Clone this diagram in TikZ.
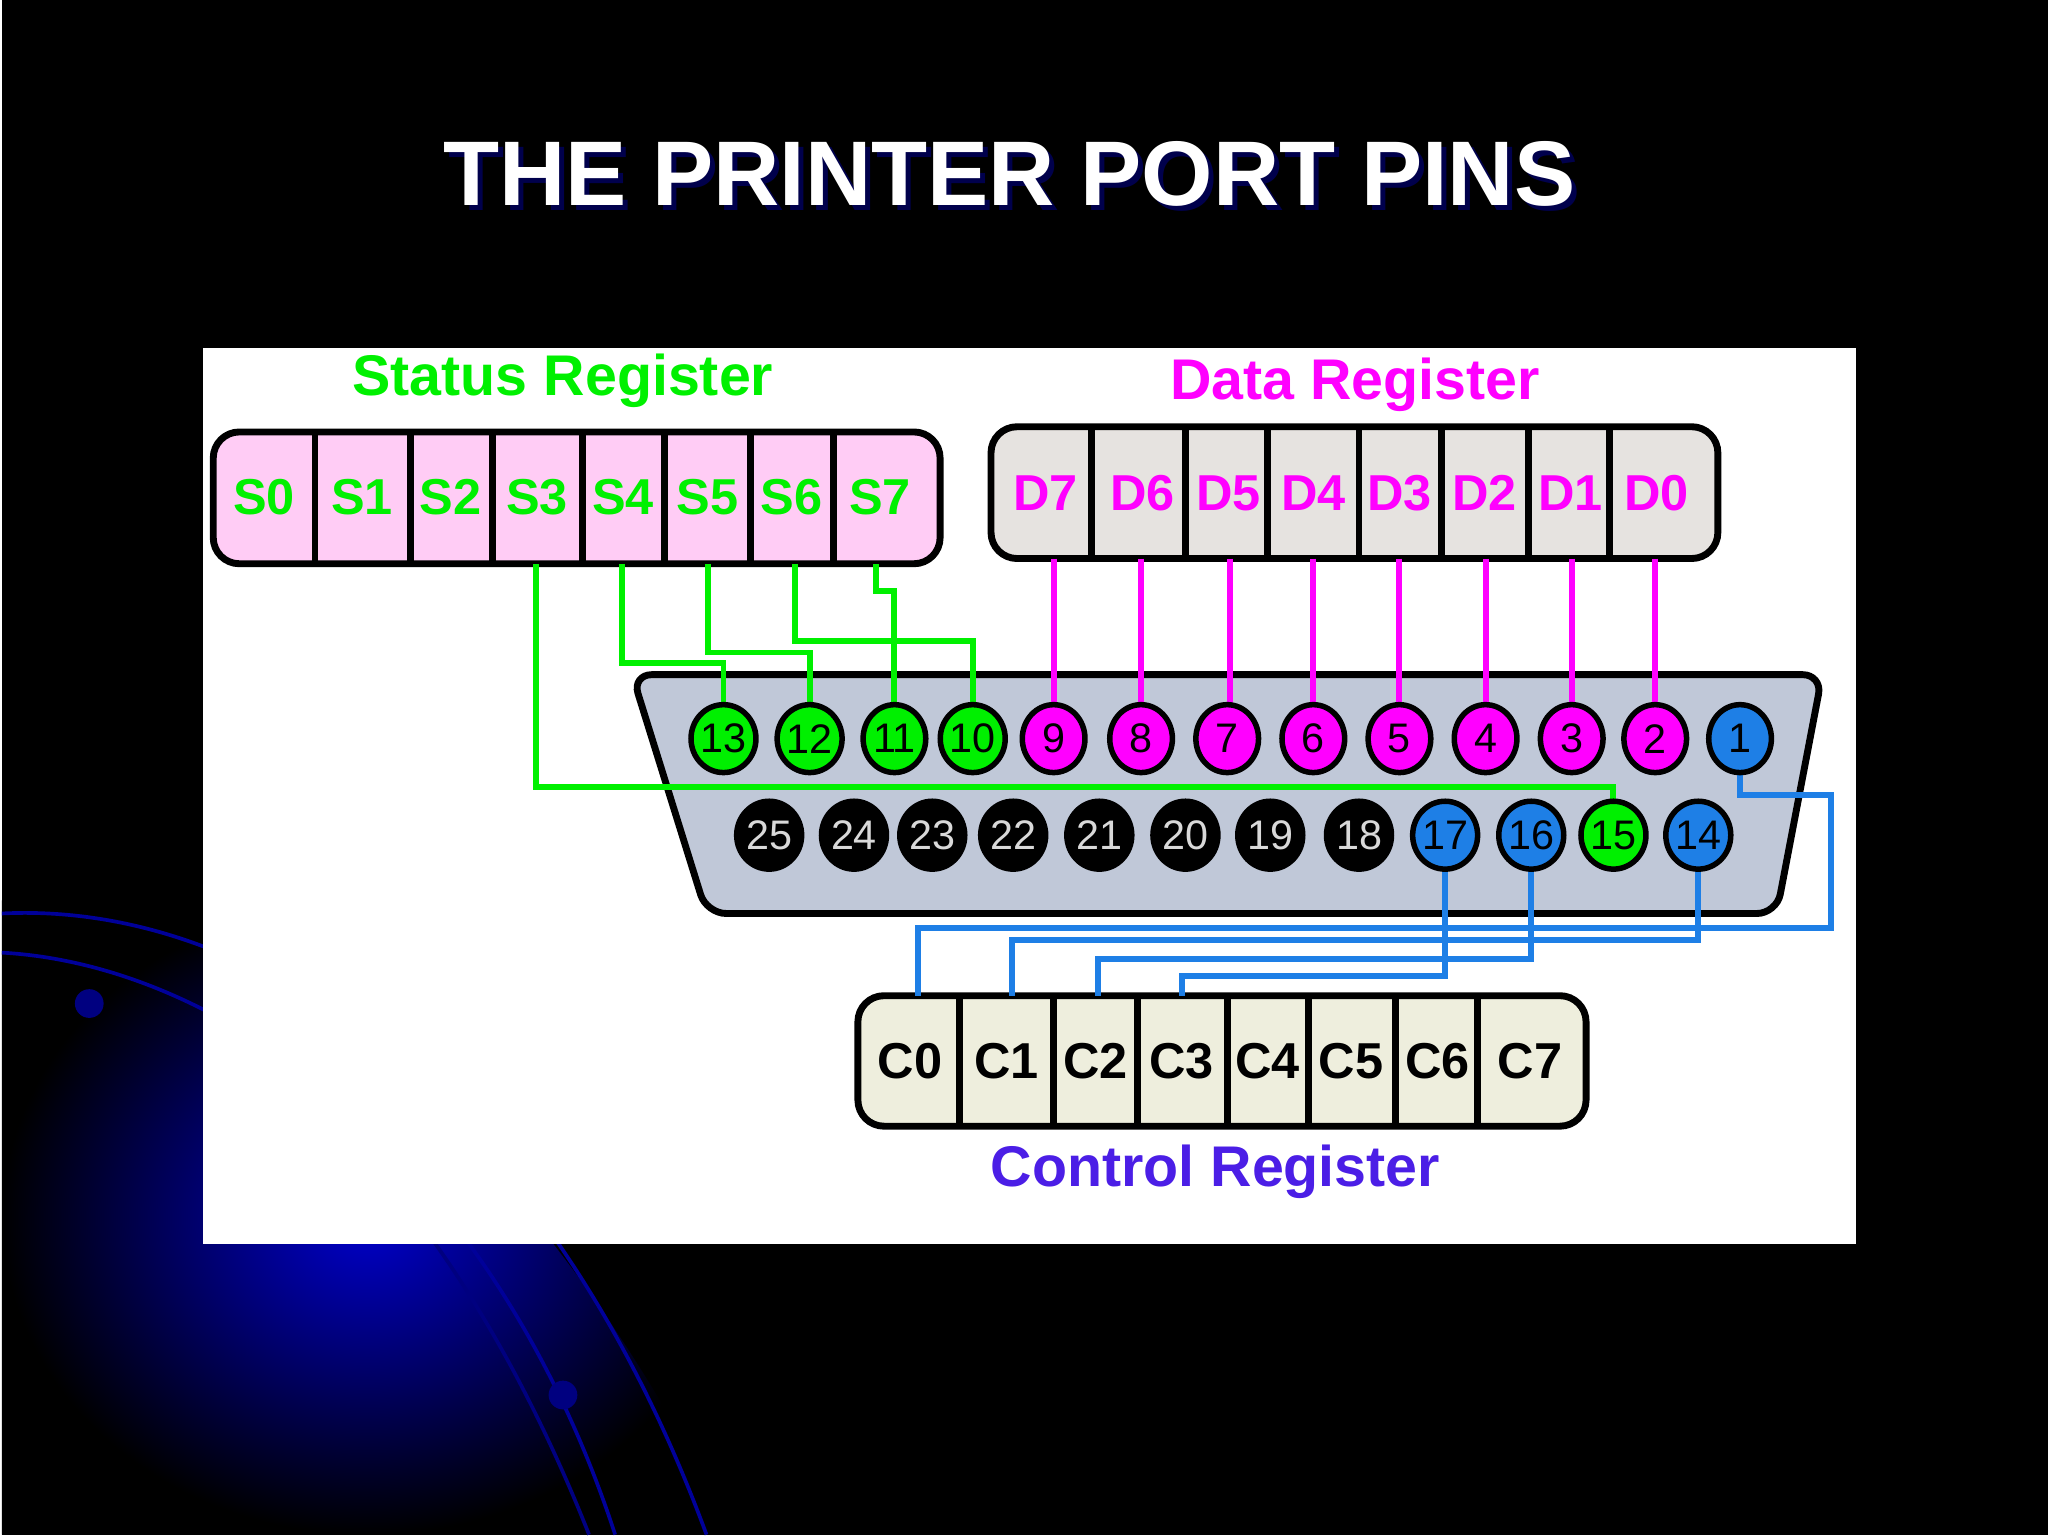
\documentclass[tikz,border=0pt]{standalone}
\usepackage{fontspec}
\setmainfont{Liberation Sans}
\usetikzlibrary{shapes.geometric}
\definecolor{sgreen}{HTML}{00F000}
\definecolor{dmag}{HTML}{FF00FF}
\definecolor{cblue}{HTML}{1E7FE6}
\definecolor{cviol}{HTML}{4B1EE6}
\definecolor{spink}{HTML}{FFCCF5}
\definecolor{dgray}{HTML}{E6E3E0}
\definecolor{cbeige}{HTML}{EEEEDD}
\definecolor{shell}{HTML}{C0C8D8}
\tikzset{
 pin/.style={ellipse,draw=black,line width=1.2pt,minimum width=0.48cm,minimum height=0.52cm,inner sep=0pt,font=\fontsize{9}{9}\selectfont},
 gpin/.style={pin,fill=sgreen},
 mpin/.style={pin,fill=dmag},
 bpin/.style={pin,fill=cblue},
 kpin/.style={pin,fill=black,text=white!85!black},
 reg/.style={draw=black,line width=1.5pt,rounded corners=0.2cm},
 cell/.style={font=\bfseries\fontsize{11}{11}\selectfont},
 gw/.style={sgreen,line width=1.3pt},
 mw/.style={dmag,line width=1.3pt},
 bw/.style={cblue,line width=1.3pt},
 rlabel/.style={font=\bfseries\fontsize{12.5}{12.5}\selectfont}
}
\begin{document}
\begin{tikzpicture}[x=0.01cm,y=-0.01cm]
\fill[black] (0,0) rectangle (1568,1176);
\shade[inner color=blue!80!black,outer color=black] (0,1176) -- (0,690) .. controls (250,700) and (450,950) .. (560,1176) -- cycle;
\draw[blue!60!black,line width=0.8pt] (0,700) .. controls (200,690) and (420,850) .. (540,1176);
\draw[blue!60!black,line width=0.8pt] (0,730) .. controls (180,740) and (380,900) .. (470,1176);
\draw[blue!50!black,line width=0.8pt] (330,950) .. controls (380,1020) and (420,1100) .. (450,1176);
\fill[blue!50!black] (67,769) circle (11);
\fill[blue!50!black] (430,1069) circle (11);
\node[text=blue!30!black,font=\bfseries\fontsize{20}{20}\selectfont] at (776,137) {THE PRINTER PORT PINS};
\node[text=white,font=\bfseries\fontsize{20}{20}\selectfont] (title) at (772,133) {THE PRINTER PORT PINS};
\fill[white] (154,267) rectangle (1421,953);
% connector shell
\draw[fill=shell,line width=1.5pt,rounded corners=0.15cm] (483,517) -- (1395,517) -- (1360,700) -- (540,700) -- cycle;
% registers
\draw[reg,fill=spink] (162,331) rectangle (719,432);
\foreach \x in {240,313,376,445,508,574,637} \draw[line width=1.5pt] (\x,331) -- (\x,432);
\draw[reg,fill=dgray] (758,327) rectangle (1315,428);
\foreach \x in {835,907,970,1040,1103,1170,1232} \draw[line width=1.5pt] (\x,327) -- (\x,428);
\draw[reg,fill=cbeige] (656,763) rectangle (1214,863);
\foreach \x in {734,806,870,939,1001,1068,1131} \draw[line width=1.5pt] (\x,763) -- (\x,863);
\foreach \n/\x in {0/201,1/276,2/344,3/410,4/476,5/541,6/605,7/673}
  \node[cell,text=sgreen] (S\n) at (\x,381) {S\n};
\foreach \n/\x in {7/800,6/874,5/940,4/1005,3/1071,2/1136,1/1202,0/1268}
  \node[cell,text=dmag] (D\n) at (\x,378) {D\n};
\foreach \n/\x in {0/696,1/770,2/838,3/904,4/970,5/1034,6/1100,7/1171}
  \node[cell,text=black] (C\n) at (\x,813) {C\n};
\node[rlabel,text=sgreen] (stl) at (430,292) {Status Register};
\node[rlabel,text=dmag] (dtl) at (1037,295) {Data Register};
\node[rlabel,text=cviol] (ctl) at (930,898) {Control Register};
% wires
\coordinate (s3) at (409,432); \coordinate (s4) at (475,432); \coordinate (s5) at (541,432);
\coordinate (s6) at (608,432); \coordinate (s7) at (670,432);
\draw[gw] (s3) |- (1235,603) -- (1235,640);
\draw[gw] (s4) |- (553,508) -- (553,566);
\draw[gw] (s5) |- (619,500) -- (619,566);
\draw[gw] (s6) |- (744,491) -- (744,566);
\draw[gw] (s7) |- (684,453) -- (684,566);
\foreach \d/\x in {7/806,6/873,5/941,4/1005,3/1071,2/1137,1/1203,0/1267}
  \draw[mw] (\x,428) -- (\x,566);
\draw[bw] (1332,566) |- (1402,609) |- (702,711) -- (702,763);
\draw[bw] (1300,640) |- (774,720) -- (774,763);
\draw[bw] (1172,640) |- (840,735) -- (840,763);
\draw[bw] (1106,640) |- (904,748) -- (904,763);
% pins
\foreach \n/\x in {13/553,12/619,11/684,10/744} \node[gpin] (p\n) at (\x,566) {\n};
\foreach \n/\x in {9/806,8/873,7/939,6/1005,5/1071,4/1137,3/1203,2/1267} \node[mpin] (p\n) at (\x,566) {\n};
\node[bpin] (p1) at (1332,566) {1};
\foreach \n/\x in {25/588,24/653,23/713,22/775,21/841,20/907,19/972,18/1040} \node[kpin] (p\n) at (\x,640) {\n};
\node[bpin] (p17) at (1106,640) {17};
\node[bpin] (p16) at (1172,640) {16};
\node[gpin] (p15) at (1235,640) {15};
\node[bpin] (p14) at (1300,640) {14};
\end{tikzpicture}
\end{document}
